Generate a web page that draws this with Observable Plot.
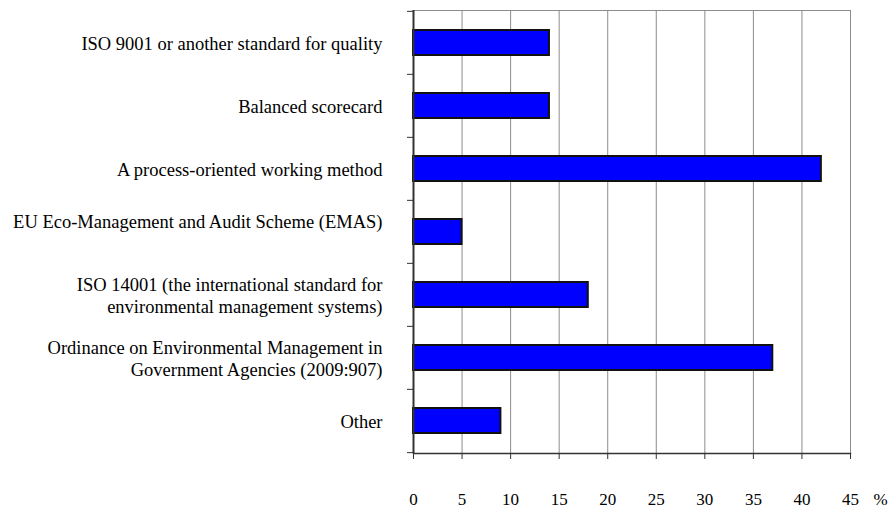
<!DOCTYPE html>
<html>
<head>
<meta charset="utf-8">
<script src="https://cdn.jsdelivr.net/npm/d3@7"></script>
<script src="https://cdn.jsdelivr.net/npm/@observablehq/plot@0.6"></script>
<style>
  html, body { margin: 0; padding: 0; background: #fff; }
</style>
</head>
<body>
<div id="chart"></div>
<script>
const categories = [
  "ISO 9001 or another standard for quality",
  "Balanced scorecard",
  "A process-oriented working method",
  "EU Eco-Management and Audit Scheme (EMAS)",
  "ISO 14001 (the international standard for environmental management systems)",
  "Ordinance on Environmental Management in Government Agencies (2009:907)",
  "Other"
];
const values = [14, 14, 42, 5, 18, 37, 9];
const tickLabels = [
  "ISO 9001 or another standard for quality",
  "Balanced scorecard",
  "A process-oriented working method",
  "EU Eco-Management and Audit Scheme (EMAS)\n",
  "ISO 14001 (the international standard for\nenvironmental management systems)",
  "Ordinance on Environmental Management in\nGovernment Agencies (2009:907)",
  "Other"
];
const xTicks = [0, 5, 10, 15, 20, 25, 30, 35, 40, 45];
const unitLabel = "%";

const data = categories.map((c, i) => ({category: c, value: values[i]}));
const labelOf = new Map(categories.map((c, i) => [c, tickLabels[i]]));

const W = 889, H = 508, mt = 10, mb = 55, ml = 413, mr = 39;
const halfStep = (H - mt - mb) / categories.length / 2;
const font = "Liberation Serif";

const plot = Plot.plot({
  width: W,
  height: H,
  marginTop: mt,
  marginBottom: mb,
  marginLeft: ml,
  marginRight: mr,
  style: {fontFamily: font, fontSize: "17px", color: "#000", background: "#fff"},
  x: {domain: [0, 45]},
  y: {domain: categories, paddingInner: 0.6, paddingOuter: 0.3},
  marks: [
    Plot.gridX(xTicks, {stroke: "#8c8c8c", strokeOpacity: 1, strokeWidth: 1}),
    Plot.frame({anchor: "top", stroke: "#8c8c8c", strokeWidth: 1}),
    Plot.barX(data, {x: "value", y: "category", fill: "#0000ff", stroke: "#111", strokeWidth: 2}),
    Plot.ruleX([0], {stroke: "#333", strokeWidth: 2}),
    Plot.frame({anchor: "bottom", stroke: "#333", strokeWidth: 1.5}),
    Plot.axisX({ticks: xTicks, tickSize: 6, tickPadding: 33, fontSize: 17, fontFamily: font, stroke: "#333", label: null}),
    Plot.axisY({tickSize: 0, tickPadding: 31, fontSize: 18.5, fontFamily: font, lineHeight: 1.17, tickFormat: d => labelOf.get(d), label: null}),
    Plot.axisY({tickSize: 6, tickFormat: () => "", dy: -halfStep, stroke: "#333", label: null}),
    Plot.axisY({ticks: [categories[categories.length - 1]], tickSize: 6, tickFormat: () => "", dy: halfStep, stroke: "#333", label: null}),
    Plot.text([unitLabel], {x: () => 45, text: d => d, frameAnchor: "bottom", dx: 30, dy: 51, lineAnchor: "bottom", fontSize: 17, fontFamily: font})
  ]
});
document.getElementById("chart").appendChild(plot);
</script>
</body>
</html>
